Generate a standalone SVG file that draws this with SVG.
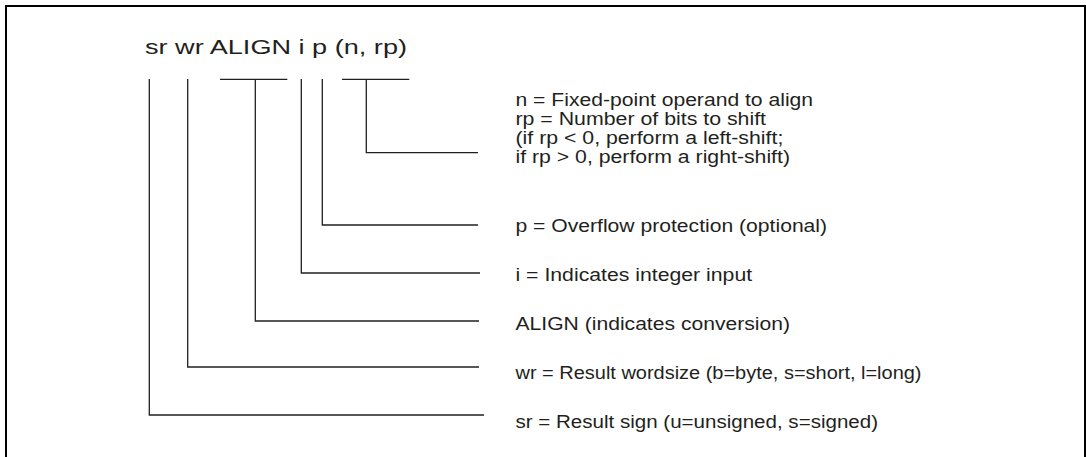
<svg xmlns="http://www.w3.org/2000/svg" width="1086" height="457" viewBox="0 0 1086 457">
<style>
.t{font-family:"Liberation Sans",Arial,sans-serif;font-size:17.5px;fill:#231f20}
.h{font-family:"Liberation Sans",Arial,sans-serif;font-size:20px;fill:#231f20}
.c{fill:none;stroke:#231f20;stroke-width:1.3}
</style>
<rect x="6" y="6" width="1079" height="500" fill="#fff" stroke="#000" stroke-width="2"/>
<g id="title"><text class="h" x="145" y="54" textLength="262" lengthAdjust="spacingAndGlyphs">sr wr ALIGN i p (n, rp)</text></g>
<g id="connectors">
<path class="c" d="M149.3,79 V415 H484"/>
<path class="c" d="M187.7,79 V367 H479"/>
<path class="c" d="M220,79.3 H287.3 M255.3,79.3 V321 H479"/>
<path class="c" d="M301.3,79 V273 H480"/>
<path class="c" d="M322.3,79 V225 H478"/>
<path class="c" d="M342,79.3 H409.3 M366.3,79.3 V152.7 H478"/>
</g>
<g id="n-rp"><text class="t" x="515.5" y="106" textLength="297.6" lengthAdjust="spacingAndGlyphs">n = Fixed-point operand to align</text>
<text class="t" x="515.5" y="125" textLength="250.5" lengthAdjust="spacingAndGlyphs">rp = Number of bits to shift</text>
<text class="t" x="515.5" y="144" textLength="267.8" lengthAdjust="spacingAndGlyphs">(if rp &lt; 0, perform a left-shift;</text>
<text class="t" x="515.5" y="163" textLength="274.5" lengthAdjust="spacingAndGlyphs">if rp &gt; 0, perform a right-shift)</text></g>
<g id="p"><text class="t" x="515.5" y="232" textLength="311.6" lengthAdjust="spacingAndGlyphs">p = Overflow protection (optional)</text></g>
<g id="i"><text class="t" x="515.5" y="281" textLength="236.6" lengthAdjust="spacingAndGlyphs">i = Indicates integer input</text></g>
<g id="align"><text class="t" x="515.5" y="330" textLength="274.5" lengthAdjust="spacingAndGlyphs">ALIGN (indicates conversion)</text></g>
<g id="wr"><text class="t" x="515.5" y="379" textLength="406" lengthAdjust="spacingAndGlyphs">wr = Result wordsize (b=byte, s=short, l=long)</text></g>
<g id="sr"><text class="t" x="515.5" y="428" textLength="362.5" lengthAdjust="spacingAndGlyphs">sr = Result sign (u=unsigned, s=signed)</text></g>
</svg>
